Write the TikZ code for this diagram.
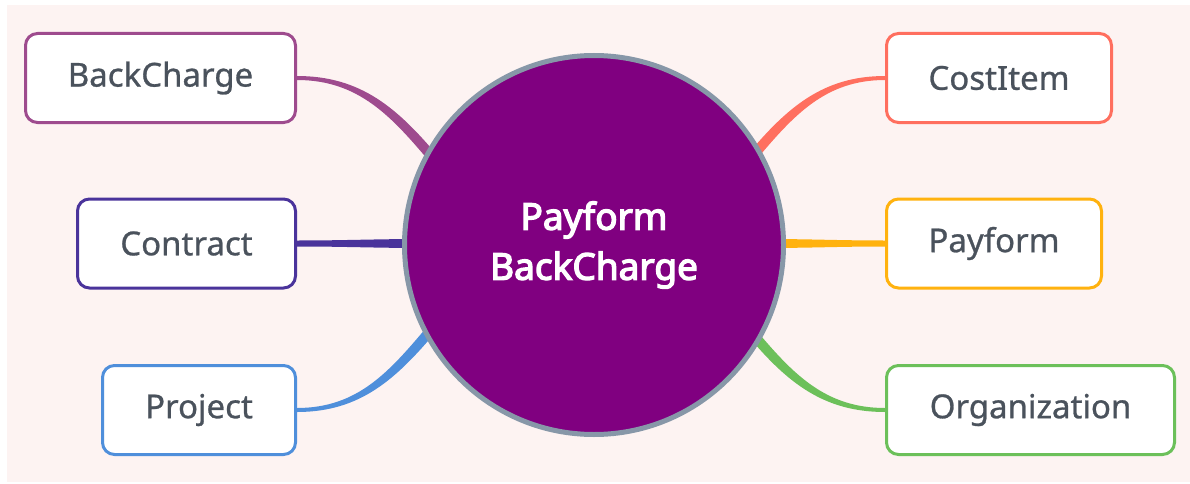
\documentclass[tikz,border=0pt]{standalone}
\usepackage{fontspec}
\setmainfont{Noto Sans}
\newfontfamily\hubfont{Noto Sans}[FakeBold=3.5]
\newfontfamily\leaffont{Noto Sans}[FakeBold=0.8]
\usepackage{tikz}
\usetikzlibrary{calc}

\definecolor{bgpink}{HTML}{FDF3F2}
\definecolor{hubfill}{HTML}{800080}
\definecolor{hubrim}{HTML}{8797A8}
\definecolor{leaftext}{HTML}{4A525C}
\definecolor{cbackcharge}{HTML}{9E4B8E}
\definecolor{ccontract}{HTML}{4A339B}
\definecolor{cproject}{HTML}{4F8FDB}
\definecolor{ccostitem}{HTML}{FF6F5F}
\definecolor{cpayform}{HTML}{FFB20F}
\definecolor{corg}{HTML}{6CC05A}

\tikzset{
    leaf/.style={shape=rectangle, rounded corners=12pt, line width=3pt, fill=white,
        minimum height=89pt, text=leaftext, font=\leaffont\fontsize{33}{38}\selectfont},
    hub/.style={shape=circle, line width=5pt, draw=hubrim, fill=hubfill, minimum size=379pt,
        text=white, align=center, font=\hubfont\fontsize{37}{50}\selectfont}}

% tapered branch: colour, leaf anchor, end point, out, in, half width at leaf, normal at end
\newcommand{\branch}[7]{%
    \fill[#1] ($(#2)+(0,#6)$) to[out=#4,in=#5] ($(#3)+(#7)$) -- ($(#3)-(#7)$)
        to[out=#5,in=#4] ($(#2)-(0,#6)$) -- cycle;}

\begin{document}
\begin{tikzpicture}[x=1pt, y=1pt]

    \useasboundingbox (0,0) rectangle (1190,483);
    \fill[bgpink] (7,1) rectangle (1190,478);

    \coordinate (H) at (594,238);

    \node[leaf, draw=cbackcharge, minimum width=270pt] (bc) at (160.5,405) {BackCharge};
    \node[leaf, draw=ccontract, minimum width=218pt] (ct) at (186.5,239.5) {Contract};
    \node[leaf, draw=cproject, minimum width=193pt] (pj) at (199,73) {Project};
    \node[leaf, draw=ccostitem, minimum width=225pt] (ci) at (999,405) {CostItem};
    \node[leaf, draw=cpayform, minimum width=215pt] (pf) at (994,239.5) {Payform};
    \node[leaf, draw=corg, minimum width=288pt] (og) at (1030.5,73) {Organization};

    \coordinate (bcend) at ($(H)+(152:180)$);
    \coordinate (pjend) at ($(H)+(207:180)$);
    \coordinate (ciend) at ($(H)+(29:180)$);
    \coordinate (ogend) at ($(H)+(-29:180)$);
    \coordinate (ctend) at ($(ct.east -| H)+(-170,0)$);
    \coordinate (pfend) at ($(pf.west -| H)+(170,0)$);

    \branch{cbackcharge}{bc.east}{bcend}{0}{130}{2}{3.8,3.2}
    \branch{ccontract}{ct.east}{ctend}{0}{180}{3}{0,4.5}
    \branch{cproject}{pj.east}{pjend}{0}{230}{2}{-3.8,3.2}
    \branch{ccostitem}{ci.west}{ciend}{180}{50}{2}{-3.8,3.2}
    \branch{cpayform}{pf.west}{pfend}{180}{0}{3}{0,4.5}
    \branch{corg}{og.west}{ogend}{180}{-50}{2}{3.8,3.2}

    \node[hub] (c) at (H) {Payform\\BackCharge};

\end{tikzpicture}
\end{document}
